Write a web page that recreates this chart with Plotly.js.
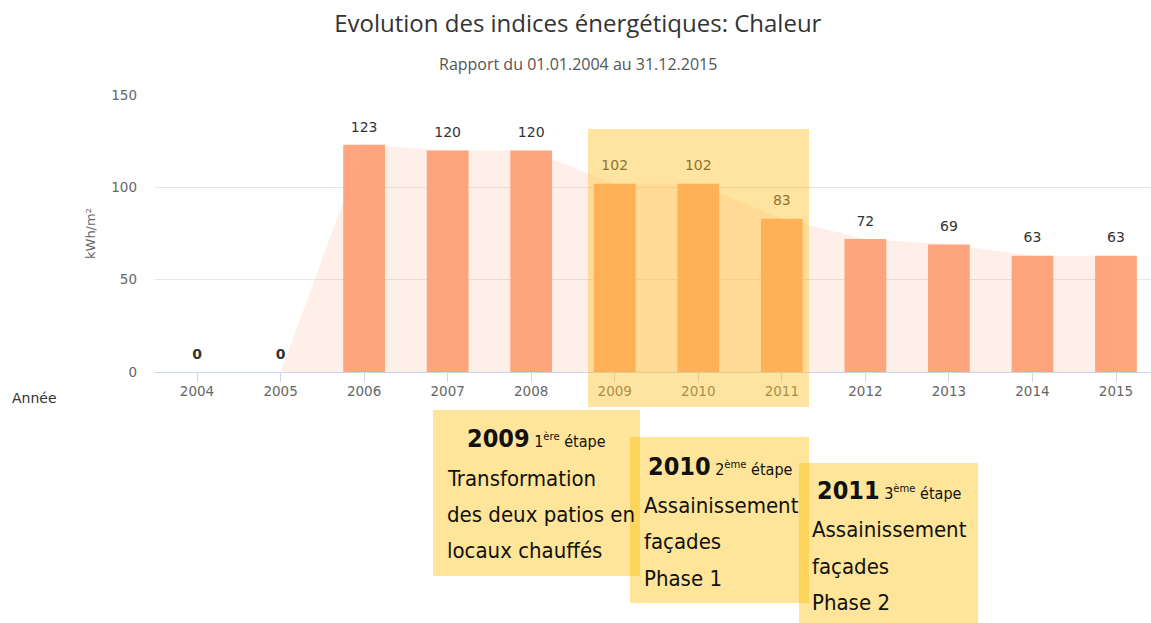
<!DOCTYPE html>
<html>
<head>
<meta charset="utf-8">
<script src="https://cdn.plot.ly/plotly-3.0.1.min.js"></script>
<style>html,body{margin:0;padding:0;background:#fff;}#chart{width:1151px;height:623px;}</style>
</head>
<body>
<div id="chart"></div>
<script>
const years = ['2004','2005','2006','2007','2008','2009','2010','2011','2012','2013','2014','2015'];
const values = [0, 0, 123, 120, 120, 102, 102, 83, 72, 69, 63, 63];
const yTicks = [0, 50, 100, 150];
const labelWeights = values.map(v => v === 0 ? 700 : 400);

const titleText = 'Evolution des indices énergétiques: Chaleur';
const subtitleText = 'Rapport du 01.01.2004 au 31.12.2015';
const yTitleText = 'kWh/m²';
const xTitleText = 'Année';

const steps = [
  {head: '<b>2009</b>', sup: '1<sup>ère</sup> étape', lines: ['Transformation', 'des deux patios en', 'locaux chauffés']},
  {head: '<b>2010</b>', sup: '2<sup>ème</sup> étape', lines: ['Assainissement', 'façades', 'Phase 1']},
  {head: '<b>2011</b>', sup: '3<sup>ème</sup> étape', lines: ['Assainissement', 'façades', 'Phase 2']}
];

// layout geometry (pixels)
const L = 155, T = 95, W = 1151, H = 623, PW = 996, PH = 277;
const px = x => (x - L) / PW;
const py = y => (T + PH - y) / PH;

const tickFont = 'DejaVu Sans, Verdana, sans-serif';
const boxFont = 'Liberation Sans Narrow, DejaVu Sans Condensed, Open Sans, sans-serif';
const boxes = [
  {x0: 433, x1: 640, y0: 410, y1: 576, headY: 438, headX: 536, textX: 445, lineY: [478, 514, 550]},
  {x0: 630, x1: 809, y0: 437, y1: 603, headY: 466, headX: 720, textX: 642, lineY: [505, 541, 578]},
  {x0: 799, x1: 978, y0: 463, y1: 623, headY: 490, headX: 889, textX: 810, lineY: [529, 566, 602]}
];

const shapes = [
  {type: 'rect', xref: 'paper', yref: 'paper', x0: px(588), x1: px(809), y0: py(407), y1: py(129),
   fillcolor: 'rgba(255,194,40,0.44)', line: {width: 0}, layer: 'above'}
];
const annotations = [
  {xref: 'paper', yref: 'paper', x: px(90), y: py(234), xanchor: 'center', yanchor: 'middle', text: yTitleText, textangle: -90, showarrow: false,
   font: {family: tickFont, size: 13, color: '#666'}},
  {xref: 'paper', yref: 'paper', x: px(10), y: py(398), xanchor: 'left', yanchor: 'middle', text: xTitleText, showarrow: false,
   font: {family: tickFont, size: 14, color: '#333'}},
  {xref: 'paper', yref: 'paper', x: px(578), y: py(64), xanchor: 'center', yanchor: 'middle', text: subtitleText, showarrow: false,
   font: {family: 'Open Sans, sans-serif', size: 16, color: '#555'}}
];
boxes.forEach((b, i) => {
  shapes.push({type: 'rect', xref: 'paper', yref: 'paper', x0: px(b.x0), x1: px(b.x1), y0: py(b.y1), y1: py(b.y0),
    fillcolor: 'rgba(252,190,0,0.4)', line: {width: 0}, layer: 'above'});
  annotations.push({xref: 'paper', yref: 'paper', x: px(b.headX), y: py(b.headY), xanchor: 'center', yanchor: 'middle',
    showarrow: false, text: '<span style="font-size:25px">' + steps[i].head + '</span> ' + steps[i].sup,
    font: {family: boxFont, size: 16, color: '#111'}});
  steps[i].lines.forEach((t, j) => {
    annotations.push({xref: 'paper', yref: 'paper', x: px(b.textX), y: py(b.lineY[j]), xanchor: 'left', yanchor: 'middle',
      showarrow: false, text: t, font: {family: boxFont, size: 22, color: '#111'}});
  });
});

const area = {
  type: 'scatter', mode: 'lines', x: years, y: values, fill: 'tozeroy',
  fillcolor: 'rgba(255,160,122,0.17)', line: {width: 0, color: 'rgba(255,160,122,0)'},
  hoverinfo: 'skip', showlegend: false
};
const bars = {
  type: 'bar', x: years, y: values, width: 0.5,
  marker: {color: '#ffa67e', line: {width: 0}},
  hoverinfo: 'skip', showlegend: false
};
const labels = {
  type: 'scatter', mode: 'markers+text', x: years, y: values,
  marker: {size: 14, color: 'rgba(0,0,0,0)'},
  text: values.map(String), textposition: 'top center', cliponaxis: false,
  textfont: {family: tickFont, size: 14, color: '#333', weight: labelWeights},
  hoverinfo: 'skip', showlegend: false
};

const layout = {
  width: W, height: H,
  margin: {l: L, r: W - L - PW, t: T, b: H - T - PH, pad: 0},
  paper_bgcolor: '#fff', plot_bgcolor: '#fff',
  title: {text: titleText, xref: 'container', x: 0.502, xanchor: 'center', yref: 'container', y: 1 - 24 / H, yanchor: 'middle',
    font: {family: 'Open Sans, sans-serif', size: 24, color: '#333'}},
  xaxis: {type: 'category', range: [-0.503, 11.419], showgrid: false, zeroline: false,
    showline: true, linecolor: '#ccd6eb', linewidth: 1, ticks: 'outside', ticklen: 9, tickcolor: '#ccd6eb',
    ticklabelstandoff: -2,
    tickfont: {family: tickFont, size: 13.5, color: '#666'}, fixedrange: true},
  yaxis: {range: [0, 150], tickvals: yTicks, showgrid: true, gridcolor: '#e6e6e6', zeroline: false,
    showline: false, ticks: '', ticklabelstandoff: 17,
    tickfont: {family: tickFont, size: 13.5, color: '#666'}, fixedrange: true},
  shapes: shapes, annotations: annotations, showlegend: false
};

Plotly.newPlot('chart', [area, bars, labels], layout, {displayModeBar: false, staticPlot: true});
</script>
</body>
</html>
